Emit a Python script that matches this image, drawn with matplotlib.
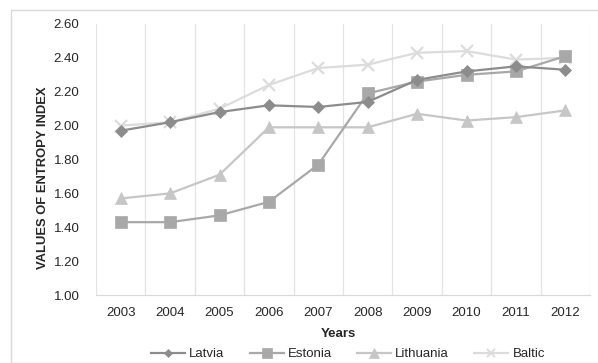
import matplotlib
matplotlib.use("Agg")
import matplotlib.pyplot as plt
from matplotlib.patches import Rectangle
from matplotlib.lines import Line2D

years = ["2003", "2004", "2005", "2006", "2007", "2008", "2009", "2010", "2011", "2012"]
latvia = [1.97, 2.02, 2.08, 2.12, 2.11, 2.14, 2.27, 2.32, 2.35, 2.33]
estonia = [1.43, 1.43, 1.47, 1.55, 1.77, 2.19, 2.26, 2.30, 2.32, 2.41]
lithuania = [1.57, 1.60, 1.71, 1.99, 1.99, 1.99, 2.07, 2.03, 2.05, 2.09]
baltic = [2.00, 2.02, 2.10, 2.24, 2.34, 2.36, 2.43, 2.44, 2.39, 2.40]
y_ticks = [1.00, 1.20, 1.40, 1.60, 1.80, 2.00, 2.20, 2.40, 2.60]

plt.rcParams["font.family"] = ["Liberation Sans", "DejaVu Sans"]

W, H = 598, 363
fig = plt.figure(figsize=(W / 100, H / 100), dpi=100)

# outer chart frame
fig.patches.append(Rectangle((11 / W, 0), 1.2, 1 - 10 / H, transform=fig.transFigure,
                             fill=False, edgecolor="#d9d9d9", linewidth=1.0))

ax = fig.add_axes([96 / W, 1 - 295 / H, (590 - 96) / W, (295 - 24) / H])
x = list(range(len(years)))

series = [
    ("Latvia", latvia, "#8c8c8c", "D", 6, 1.6),
    ("Estonia", estonia, "#a8a8a8", "s", 9, 1.6),
    ("Lithuania", lithuania, "#c6c6c6", "^", 9, 1.6),
    ("Baltic", baltic, "#dcdcdc", "x", 8, 1.6),
]
# draw back-to-front so the darker series sit on top
for name, vals, col, mk, ms, lw in reversed(series):
    ax.plot(x, vals, color=col, marker=mk, markersize=ms, linewidth=lw,
            markeredgewidth=1.6 if mk == "x" else 0.5, markeredgecolor=col, label=name)

ax.set_xlim(-0.5, len(years) - 0.5)
ax.set_ylim(1.0, 2.6)
ax.set_yticks(y_ticks)
ax.set_yticklabels([f"{v:.2f}" for v in y_ticks], fontsize=9.5, color="#262626")
ax.set_xticks(x)
ax.set_xticklabels(years, fontsize=9.5, color="#262626")
ax.tick_params(axis="both", length=0)
ax.tick_params(axis="x", pad=9)
ax.tick_params(axis="y", pad=12)

# vertical separators between categories
for b in range(len(years) + 1):
    ax.axvline(b - 0.5, color="#e3e3e3", linewidth=0.9, zorder=0)
for s in ["top", "left", "right"]:
    ax.spines[s].set_visible(False)
ax.spines["bottom"].set_color("#d9d9d9")
ax.spines["bottom"].set_linewidth(0.9)

fig.text(338 / W, 1 - 334 / H, "Years", ha="center", va="center",
         fontsize=9.5, fontweight="bold", color="#262626")
fig.text(43 / W, 1 - 178 / H, "VALUES OF ENTROPY INDEX", ha="center", va="center",
         rotation=90, fontsize=9.4, fontweight="bold", color="#262626")

handles = [Line2D([], [], color=col, marker=mk, markersize=ms * 0.75, linewidth=lw,
                  markeredgewidth=1.4 if mk == "x" else 0.5, markeredgecolor=col)
           for name, vals, col, mk, ms, lw in series]
fig.legend(handles, [s[0] for s in series], loc="center", bbox_to_anchor=(348 / W, 1 - 354 / H),
           ncol=4, frameon=False, fontsize=9.5, handlelength=2.6, handletextpad=0.3,
           columnspacing=1.9, labelcolor="#262626")

fig.savefig("out.png", dpi=100)
